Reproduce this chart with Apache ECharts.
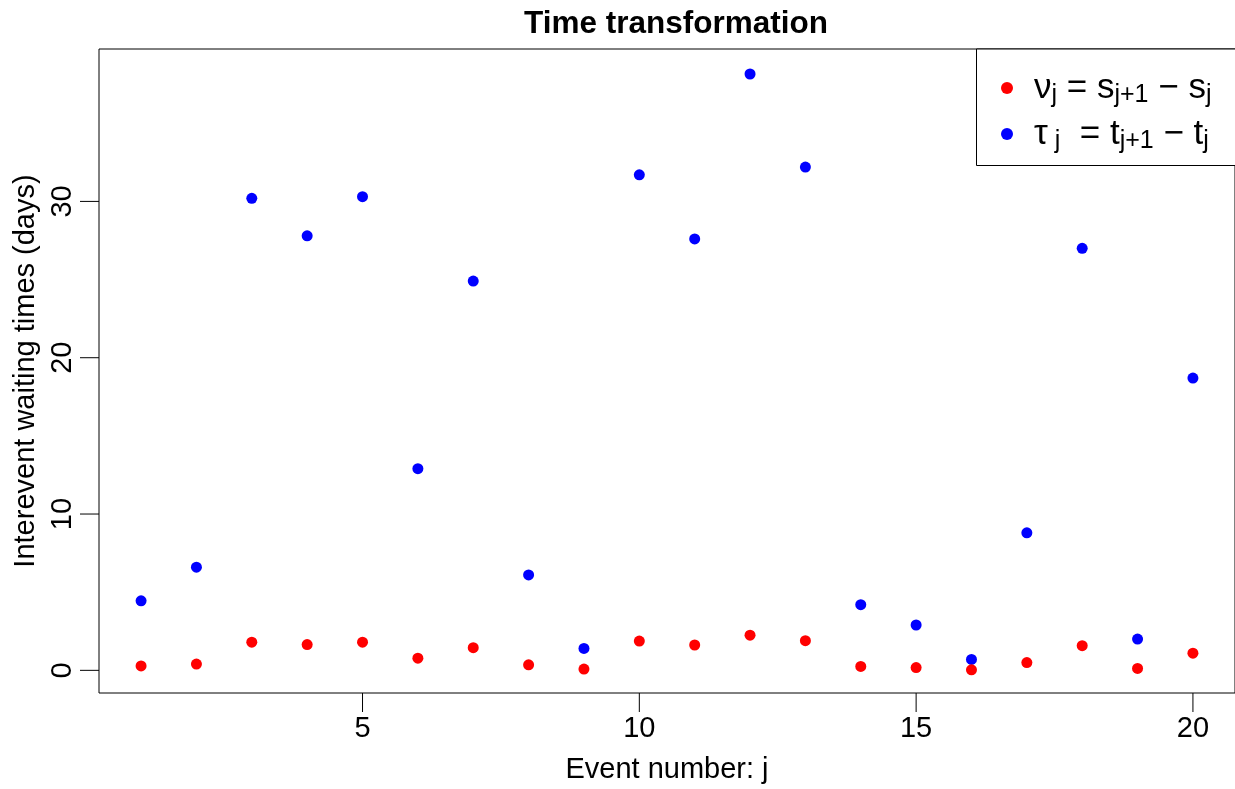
<!DOCTYPE html>
<html>
<head>
<meta charset="utf-8">
<script src="https://cdn.jsdelivr.net/npm/echarts@6/dist/echarts.min.js"></script>
<style>
  html, body { margin: 0; padding: 0; background: #fff; }
  #chart { width: 1235px; height: 789px; }
</style>
</head>
<body>
<div id="chart"></div>
<script>
// event numbers j = 1..20
const eventNumbers = [1, 2, 3, 4, 5, 6, 7, 8, 9, 10, 11, 12, 13, 14, 15, 16, 17, 18, 19, 20]

// nu_j = s_{j+1} - s_j (transformed time)
const nuValues = [0.28, 0.4, 1.8, 1.65, 1.8, 0.78, 1.45, 0.35, 0.08, 1.87,
  1.62, 2.25, 1.9, 0.25, 0.18, 0.03, 0.5, 1.58, 0.12, 1.1]

// tau_j = t_{j+1} - t_j (days)
const tauValues = [4.45, 6.6, 30.2, 27.8, 30.3, 12.9, 24.9, 6.1, 1.4, 31.7,
  27.6, 38.15, 32.2, 4.2, 2.9, 0.7, 8.8, 27.0, 2.0, 18.7]

const xTicks = [5, 10, 15, 20]
const yTicks = [0, 10, 20, 30]

const X_MIN = 0.24
const X_MAX = 20.76
const Y_MIN = -1.45
const Y_MAX = 39.75

const FONT = "'Liberation Sans', Arial, sans-serif"
const TICK_LEN = 19

const chart = echarts.init(document.getElementById('chart'))

const pairs = (ys) => eventNumbers.map((x, i) => [x, ys[i]])

// the outward R-style tick is drawn as part of each axis label:
// a 1px dark bar token sitting between the box and the number
const labelRich = {
  t: { width: 1, height: TICK_LEN, lineHeight: TICK_LEN, fontSize: 1, backgroundColor: '#000' },
  n: { fontFamily: FONT, fontSize: 29, lineHeight: 34, color: '#000' }
}

const option = {
  backgroundColor: '#fff',
  animation: false,
  textStyle: { fontFamily: FONT },
  title: {
    text: 'Time transformation',
    left: 519,
    top: 3,
    textStyle: { fontFamily: FONT, fontSize: 31.5, fontWeight: 'bold', color: '#000' }
  },
  grid: {
    left: 99,
    top: 49,
    width: 1139,
    height: 644,
    show: true,
    borderColor: '#000',
    borderWidth: 1,
    backgroundColor: 'transparent'
  },
  xAxis: {
    type: 'value',
    min: X_MIN,
    max: X_MAX,
    name: 'Event number: j',
    nameLocation: 'middle',
    nameGap: 62,
    nameTextStyle: { fontFamily: FONT, fontSize: 29, color: '#000' },
    axisLine: { show: false, onZero: false },
    axisTick: { show: false },
    splitLine: { show: false },
    axisLabel: {
      customValues: xTicks,
      margin: 0,
      formatter: (v) => '{t| }\n{n|' + v + '}',
      rich: labelRich
    }
  },
  yAxis: {
    type: 'value',
    min: Y_MIN,
    max: Y_MAX,
    name: 'Interevent waiting times (days)',
    nameLocation: 'middle',
    nameGap: 55,
    nameTextStyle: { fontFamily: FONT, fontSize: 29, color: '#000' },
    axisLine: { show: false, onZero: false },
    axisTick: { show: false },
    splitLine: { show: false },
    axisLabel: {
      customValues: yTicks,
      rotate: 90,
      margin: 0,
      formatter: (v) => '{n|' + v + '}\n{t| }',
      rich: labelRich
    }
  },
  legend: {
    orient: 'vertical',
    left: 996,
    top: 63,
    itemGap: 6,
    itemWidth: 12,
    itemHeight: 12,
    icon: 'circle',
    selectedMode: false,
    z: 10,
    data: ['nu', 'tau'],
    formatter: (name) => name === 'nu'
      ? '{m|ν}{s|j}{m| = s}{s|j+1}{m| − s}{s|j}'
      : '{m|τ}{s| j}{m|  = t}{s|j+1}{m| − t}{s|j}',
    textStyle: {
      padding: [0, 0, 0, 16],
      rich: {
        m: { fontFamily: FONT, fontSize: 35, color: '#000', lineHeight: 35 },
        s: { fontFamily: FONT, fontSize: 25, color: '#000', lineHeight: 35, padding: [15, 0, 0, 0] }
      }
    }
  },
  graphic: [{
    // legend frame, running off the right edge as in the original plot
    type: 'rect',
    shape: { x: 976.5, y: 49, width: 300, height: 116.5 },
    style: { fill: '#fff', stroke: '#000', lineWidth: 1 },
    z: 3
  }],
  series: [
    {
      name: 'nu',
      type: 'scatter',
      data: pairs(nuValues),
      symbol: 'circle',
      symbolSize: 11,
      itemStyle: { color: '#ff0000', opacity: 1 },
      z: 3
    },
    {
      name: 'tau',
      type: 'scatter',
      data: pairs(tauValues),
      symbol: 'circle',
      symbolSize: 11,
      itemStyle: { color: '#0000ff', opacity: 1 },
      z: 2
    }
  ]
}

chart.setOption(option)
</script>
</body>
</html>
